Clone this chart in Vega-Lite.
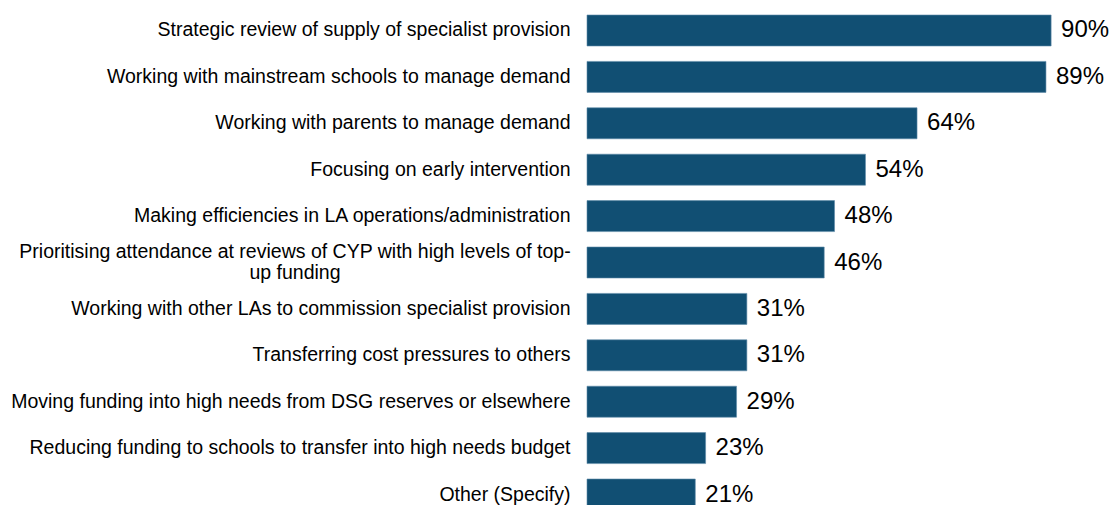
{
  "$schema": "https://vega.github.io/schema/vega-lite/v6.json",
  "width": 526,
  "height": 525,
  "autosize": {"type": "none"},
  "padding": {"left": 587, "top": 0, "right": 0, "bottom": 0},
  "background": "white",
  "config": {"view": {"stroke": null}, "font": "Liberation Sans"},
  "data": {
    "values": [
      {"item": "Strategic review of supply of specialist provision", "pct": 0.90},
      {"item": "Working with mainstream schools to manage demand", "pct": 0.89},
      {"item": "Working with parents to manage demand", "pct": 0.64},
      {"item": "Focusing on early intervention", "pct": 0.54},
      {"item": "Making efficiencies in LA operations/administration", "pct": 0.48},
      {"item": "Prioritising attendance at reviews of CYP with high levels of top-up funding", "pct": 0.46},
      {"item": "Working with other LAs to commission specialist provision", "pct": 0.31},
      {"item": "Transferring cost pressures to others ", "pct": 0.31},
      {"item": "Moving funding into high needs from DSG reserves or elsewhere", "pct": 0.29},
      {"item": "Reducing funding to schools to transfer into high needs budget", "pct": 0.23},
      {"item": "Other (Specify)", "pct": 0.21}
    ]
  },
  "encoding": {
    "y": {
      "field": "item",
      "type": "nominal",
      "sort": null,
      "scale": {"paddingInner": 0.332, "paddingOuter": 0.323},
      "axis": {
        "title": null,
        "domain": false,
        "ticks": false,
        "labelFontSize": 19.5,
        "labelColor": "#000000",
        "labelLimit": 700,
        "labelLineHeight": 21.6,
        "labelExpr": "indexof(datum.value, 'Prioritising') == 0 ? ['Prioritising attendance at reviews of CYP with high levels of top-', 'up funding'] : datum.value",
        "labelAlign": {"condition": {"test": "indexof(datum.value, 'Prioritising') == 0", "value": "center"}, "value": "right"},
        "labelOffset": {"condition": {"test": "indexof(datum.value, 'Prioritising') == 0", "value": -10.8}, "value": 0},
        "labelPadding": {"condition": {"test": "indexof(datum.value, 'Prioritising') == 0", "value": 292.5}, "value": 17}
      }
    },
    "x": {
      "field": "pct",
      "type": "quantitative",
      "scale": {"domain": [0, 1.02]},
      "axis": null
    }
  },
  "layer": [
    {
      "mark": {"type": "bar", "color": "#114F73", "stroke": "#5F8BAA", "strokeWidth": 0.6}
    },
    {
      "mark": {"type": "text", "align": "left", "baseline": "middle", "dx": 10, "dy": 0, "fontSize": 24, "color": "#000000"},
      "encoding": {"text": {"field": "pct", "type": "quantitative", "format": ".0%"}}
    }
  ]
}
